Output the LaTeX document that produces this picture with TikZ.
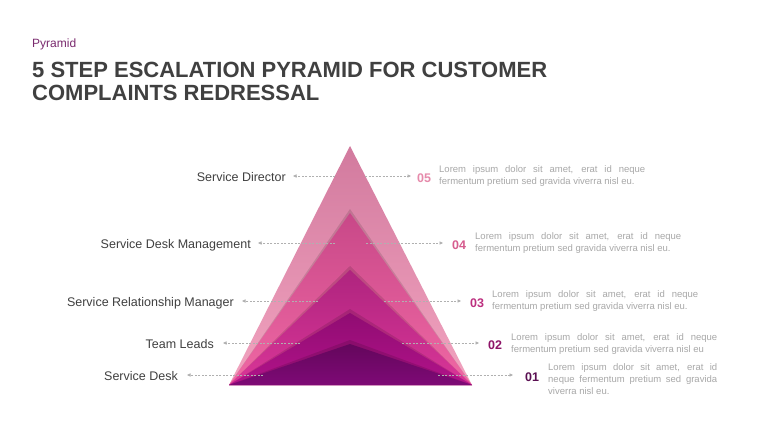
\documentclass[tikz,border=0pt]{standalone}
\usepackage{fontspec}
\setmainfont{Liberation Sans}
\newfontfamily\descfont{Liberation Sans}[HyphenChar=None]
\usetikzlibrary{arrows.meta}
\definecolor{titlegray}{HTML}{404040}
\definecolor{labelgray}{HTML}{404040}
\definecolor{descgray}{HTML}{A8A8A8}
\definecolor{conngray}{HTML}{B0B0B0}
\definecolor{kicker}{HTML}{7A2A6E}
\definecolor{nfive}{HTML}{E68AAB}
\definecolor{nfour}{HTML}{D65C8E}
\definecolor{nthree}{HTML}{BC2F7F}
\definecolor{ntwo}{HTML}{8E1468}
\definecolor{none}{HTML}{5A0F52}
\definecolor{lfivetop}{HTML}{D27A9E}
\definecolor{lfivemid}{HTML}{EC90B2}
\definecolor{lfivebot}{HTML}{F2A4C0}
\definecolor{lfourtop}{HTML}{C84888}
\definecolor{lfourmid}{HTML}{E6609E}
\definecolor{lfourbot}{HTML}{F068A4}
\definecolor{lthreetop}{HTML}{AE247E}
\definecolor{lthreemid}{HTML}{D0308F}
\definecolor{lthreebot}{HTML}{DA3698}
\definecolor{ltwotop}{HTML}{900C72}
\definecolor{ltwomid}{HTML}{A80F82}
\definecolor{ltwobot}{HTML}{B2138A}
\definecolor{lonetop}{HTML}{64065C}
\definecolor{lonemid}{HTML}{740870}
\definecolor{lonebot}{HTML}{7E0A76}
\begin{document}
\begin{tikzpicture}[x=1pt,y=-1pt,
  lbl/.style={font=\fontsize{12.5}{15}\selectfont, text=labelgray, anchor=base east, inner sep=0pt},
  num/.style={font=\fontsize{12.5}{15}\selectfont\bfseries, anchor=base west, inner sep=0pt},
  desc/.style={font=\descfont\fontsize{9.5}{12}\selectfont, text=descgray, anchor=north west, inner sep=0pt, align=justify, text width=206pt},
  conn/.style={draw=conngray, line width=0.6pt, dash pattern=on 2pt off 1.5pt, -{Triangle[width=3.2pt,length=3.5pt]}},
  layer/.style={shading=axis, shading angle=0},
  shadowtri/.style={fill=black, opacity=0.12}
]
\useasboundingbox (0,0) rectangle (768,432);
\fill[white] (0,0) rectangle (768,432);

% title
\node[anchor=base west, inner sep=0pt, text=kicker, font=\fontsize{12}{14}\selectfont] (kick) at (32,47) {Pyramid};
\node[anchor=base west, inner sep=0pt, text=titlegray, font=\fontsize{22}{23}\selectfont\bfseries] (title1) at (32,77) {5 STEP ESCALATION PYRAMID FOR CUSTOMER};
\node[anchor=base west, inner sep=0pt, text=titlegray, font=\fontsize{22}{23}\selectfont\bfseries] (title2) at (32,100) {COMPLAINTS REDRESSAL};

% inner connector ends
\coordinate (l5) at (335,176); \coordinate (r5) at (365,176);
\coordinate (l4) at (335,243); \coordinate (r4) at (366,243);
\coordinate (l3) at (318,301); \coordinate (r3) at (384,301);
\coordinate (l2) at (300,343); \coordinate (r2) at (402,343);
\coordinate (l1) at (263,375); \coordinate (r1) at (438,375);

% pyramid
\coordinate (bl) at (229,385);
\coordinate (br) at (472,385);
\shade[layer, top color=lfivetop, middle color=lfivemid, bottom color=lfivebot] (bl) -- (350,146) -- (br) -- cycle;
\fill[shadowtri] (bl) -- (350,209) -- (br) -- cycle;
\shade[layer, top color=lfourtop, middle color=lfourmid, bottom color=lfourbot] (bl) -- (350,213) -- (br) -- cycle;
\fill[shadowtri] (bl) -- (350,266) -- (br) -- cycle;
\shade[layer, top color=lthreetop, middle color=lthreemid, bottom color=lthreebot] (bl) -- (350,270) -- (br) -- cycle;
\fill[shadowtri] (bl) -- (350,309) -- (br) -- cycle;
\shade[layer, top color=ltwotop, middle color=ltwomid, bottom color=ltwobot] (bl) -- (350,313) -- (br) -- cycle;
\fill[shadowtri] (bl) -- (350,340) -- (br) -- cycle;
\shade[layer, top color=lonetop, middle color=lonemid, bottom color=lonebot] (bl) -- (350,344) -- (br) -- cycle;

% left labels
\node[lbl] (s5) at (286,181) {Service Director};
\node[lbl] (s4) at (251,248) {Service Desk Management};
\node[lbl] (s3) at (234,306) {Service Relationship Manager};
\node[lbl] (s2) at (214,348) {Team Leads};
\node[lbl] (s1) at (178,380) {Service Desk};

% numbers
\node[num, text=nfive] (n5) at (417,182) {05};
\node[num, text=nfour] (n4) at (452,249) {04};
\node[num, text=nthree] (n3) at (470,307) {03};
\node[num, text=ntwo] (n2) at (488,349) {02};
\node[num, text=none] (n1) at (525,381) {01};

% connectors
\draw[conn] (l5) -- ([xshift=7pt]s5.east |- l5);
\draw[conn] (r5) -- ([xshift=-6pt]n5.west |- r5);
\draw[conn] (l4) -- ([xshift=7pt]s4.east |- l4);
\draw[conn] (r4) -- ([xshift=-9pt]n4.west |- r4);
\draw[conn] (l3) -- ([xshift=8pt]s3.east |- l3);
\draw[conn] (r3) -- ([xshift=-9pt]n3.west |- r3);
\draw[conn] (l2) -- ([xshift=9pt]s2.east |- l2);
\draw[conn] (r2) -- ([xshift=-9pt]n2.west |- r2);
\draw[conn] (l1) -- ([xshift=9pt]s1.east |- l1);
\draw[conn] (r1) -- ([xshift=-12pt]n1.west |- r1);

% descriptions
\node[desc] (d5) at (439,165) {Lorem ipsum dolor sit amet, erat id neque fermentum pretium sed gravida viverra nisl eu.};
\node[desc] (d4) at (475,232) {Lorem ipsum dolor sit amet, erat id neque fermentum pretium sed gravida viverra nisl eu.};
\node[desc] (d3) at (492,290) {Lorem ipsum dolor sit amet, erat id neque fermentum pretium sed gravida viverra nisl eu.};
\node[desc] (d2) at (511,333) {Lorem ipsum dolor sit amet, erat id neque fermentum pretium sed gravida viverra nisl eu};
\node[desc, text width=169pt] (d1) at (548,363) {Lorem ipsum dolor sit amet, erat id neque fermentum pretium sed gravida viverra nisl eu.};
\end{tikzpicture}
\end{document}
